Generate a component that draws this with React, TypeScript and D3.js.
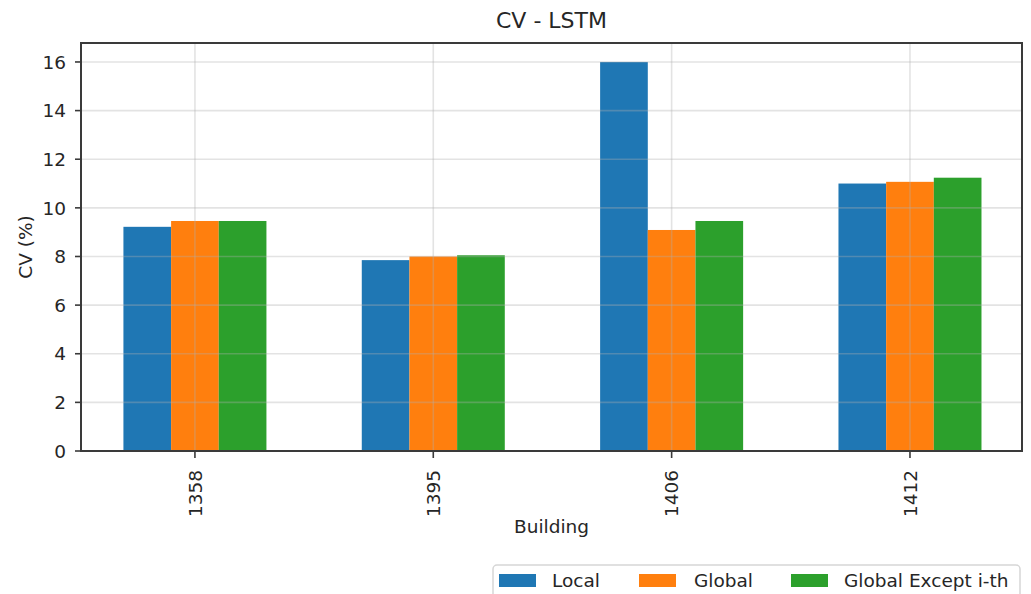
import React, { useEffect, useRef } from "react";
import * as d3 from "d3";

const buildings = ["1358", "1395", "1406", "1412"];
const seriesNames = ["Local", "Global", "Global Except i-th"];
const localCV = [9.22, 7.85, 16.0, 11.0];
const globalCV = [9.46, 8.0, 9.09, 11.07];
const exceptCV = [9.46, 8.05, 9.46, 11.24];
const yTicks = [0, 2, 4, 6, 8, 10, 12, 14, 16];
const colors = ["#1f77b4", "#ff7f0e", "#2ca02c"];

const W = 1031;
const H = 594;
const margin = { left: 81, right: 9, top: 43, bottom: 143 };
const font = "'DejaVu Sans', sans-serif";

const App = () => {
  const svgRef = useRef<SVGSVGElement>(null);

  useEffect(() => {
    const svg = d3.select(svgRef.current);
    svg.selectAll("*").remove();

    const x0 = margin.left;
    const x1 = W - margin.right;
    const y0 = H - margin.bottom;
    const y1 = margin.top;

    // groups sit at 0..3 like pandas bar plot
    const x = d3.scaleLinear().domain([-0.478, 3.47]).range([x0, x1]);
    const y = d3.scaleLinear().domain([0, 16.78]).range([y0, y1]);
    const barW = x(0.2) - x(0);

    const series = [localCV, globalCV, exceptCV];

    svg.append("rect").attr("width", W).attr("height", H).attr("fill", "#fff");

    // bars
    series.forEach((vals, s) => {
      svg
        .append("g")
        .selectAll("rect")
        .data(vals)
        .enter()
        .append("rect")
        .attr("x", (d, i) => x(i) + (s - 1.5) * barW)
        .attr("y", (d) => y(d))
        .attr("width", barW)
        .attr("height", (d) => y(0) - y(d))
        .attr("fill", colors[s]);
    });

    // grid on top of bars
    const grid = svg.append("g").attr("stroke", "#b0b0b0").attr("stroke-opacity", 0.35).attr("stroke-width", 1.6);
    yTicks.forEach((t) => {
      grid.append("line").attr("x1", x0).attr("x2", x1).attr("y1", y(t)).attr("y2", y(t));
    });
    buildings.forEach((b, i) => {
      grid.append("line").attr("x1", x(i)).attr("x2", x(i)).attr("y1", y1).attr("y2", y0);
    });

    // frame
    svg
      .append("rect")
      .attr("x", x0)
      .attr("y", y1)
      .attr("width", x1 - x0)
      .attr("height", y0 - y1)
      .attr("fill", "none")
      .attr("stroke", "#3a3a3a")
      .attr("stroke-width", 2);

    // y axis
    const yAxis = svg.append("g").attr("transform", `translate(${x0},0)`);
    yTicks.forEach((t) => {
      yAxis.append("line").attr("x1", -6).attr("x2", 0).attr("y1", y(t)).attr("y2", y(t)).attr("stroke", "#3a3a3a").attr("stroke-width", 1.6);
      yAxis
        .append("text")
        .attr("x", -15)
        .attr("y", y(t))
        .attr("dy", "0.36em")
        .attr("text-anchor", "end")
        .attr("font-family", font)
        .attr("font-size", 18.5)
        .attr("fill", "#262626")
        .text(t);
    });

    // x axis
    buildings.forEach((b, i) => {
      svg.append("line").attr("x1", x(i)).attr("x2", x(i)).attr("y1", y0).attr("y2", y0 + 7).attr("stroke", "#3a3a3a").attr("stroke-width", 1.6);
      svg
        .append("text")
        .attr("transform", `translate(${x(i)},${y0 + 19}) rotate(-90)`)
        .attr("dy", "0.36em")
        .attr("text-anchor", "end")
        .attr("font-family", font)
        .attr("font-size", 18.5)
        .attr("fill", "#262626")
        .text(b);
    });

    // titles
    svg
      .append("text")
      .attr("x", (x0 + x1) / 2)
      .attr("y", 28)
      .attr("text-anchor", "middle")
      .attr("font-family", font)
      .attr("font-size", 22)
      .attr("fill", "#262626")
      .text("CV - LSTM");
    svg
      .append("text")
      .attr("x", (x0 + x1) / 2)
      .attr("y", 533)
      .attr("text-anchor", "middle")
      .attr("font-family", font)
      .attr("font-size", 18.5)
      .attr("fill", "#262626")
      .text("Building");
    svg
      .append("text")
      .attr("transform", `translate(32,${(y0 + y1) / 2}) rotate(-90)`)
      .attr("text-anchor", "middle")
      .attr("font-family", font)
      .attr("font-size", 18.5)
      .attr("fill", "#262626")
      .text("CV (%)");

    // legend
    const lg = svg.append("g");
    lg.append("rect")
      .attr("x", 493)
      .attr("y", 565)
      .attr("width", 527)
      .attr("height", 45)
      .attr("rx", 4)
      .attr("fill", "#fff")
      .attr("stroke", "#d6d6d6")
      .attr("stroke-width", 1.5);
    const swatchX = [499, 639, 791];
    const textX = [552, 694, 844];
    seriesNames.forEach((n, s) => {
      lg.append("rect").attr("x", swatchX[s]).attr("y", 574).attr("width", 37).attr("height", 13).attr("fill", colors[s]);
      lg.append("text")
        .attr("x", textX[s])
        .attr("y", 587)
        .attr("font-family", font)
        .attr("font-size", 18.5)
        .attr("fill", "#262626")
        .text(n);
    });
  }, []);

  return <svg ref={svgRef} width={W} height={H} style={{ position: "absolute", left: 0, top: 0 }} />;
};

export default App;
